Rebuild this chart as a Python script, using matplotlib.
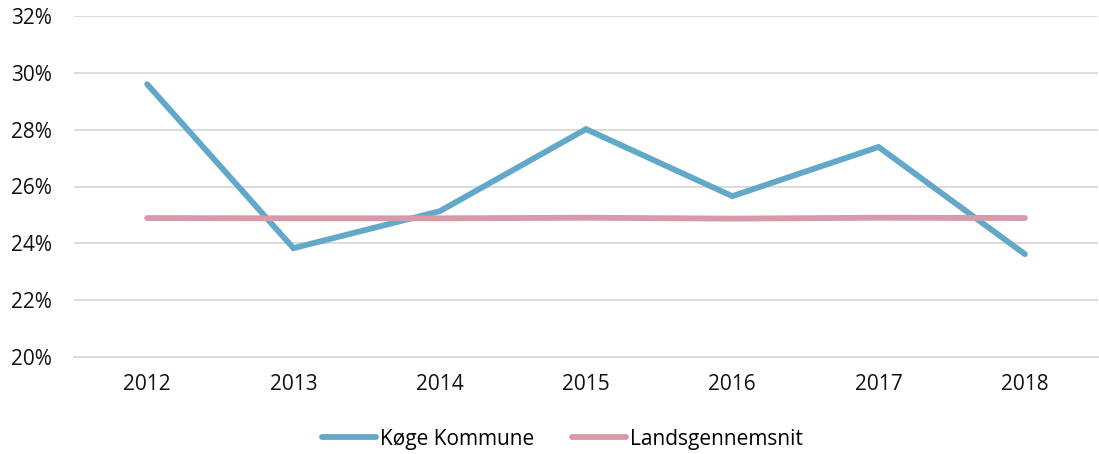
import matplotlib.pyplot as plt
from matplotlib.ticker import FuncFormatter

plt.rcParams['font.family'] = ['Open Sans', 'DejaVu Sans']

years = ['2012', '2013', '2014', '2015', '2016', '2017', '2018']
koege = [29.6, 23.83, 25.13, 28.02, 25.66, 27.39, 23.62]
lands = [24.89, 24.88, 24.88, 24.9, 24.87, 24.9, 24.89]

blue = '#62A8C9'
pink = '#D89AA9'

fig = plt.figure(figsize=(10.99, 4.54), dpi=100)
ax = fig.add_axes([74 / 1099, 1 - 357 / 454, 1024 / 1099, 341 / 454])

x = range(len(years))
ax.plot(x, koege, color=blue, lw=4.2, solid_capstyle='round', solid_joinstyle='miter', label='Køge Kommune')
ax.plot(x, lands, color=pink, lw=4.2, solid_capstyle='round', label='Landsgennemsnit')

ax.set_xlim(-0.5, len(years) - 0.5)
ax.set_ylim(20, 32)
ax.set_yticks(range(20, 33, 2))
ax.yaxis.set_major_formatter(FuncFormatter(lambda v, p: f'{v:.0f}%'))
ax.set_xticks(list(x))
ax.set_xticklabels(years)
ax.grid(axis='y', color='#D9D9D9', lw=1.3)
ax.set_axisbelow(True)
for s in ['top', 'right', 'left']:
    ax.spines[s].set_visible(False)
ax.spines['bottom'].set_color('#D9D9D9')
ax.spines['bottom'].set_linewidth(1.3)
ax.tick_params(axis='both', length=0, labelsize=15, colors='#111111')
ax.tick_params(axis='x', pad=12)
ax.tick_params(axis='y', pad=16)

fig.legend(loc='center', bbox_to_anchor=(0.512, 1 - 439 / 454), ncol=2, frameon=False,
           fontsize=15, handlelength=2.6, handletextpad=0.2, columnspacing=1.8)

fig.savefig('out.png', dpi=100)
